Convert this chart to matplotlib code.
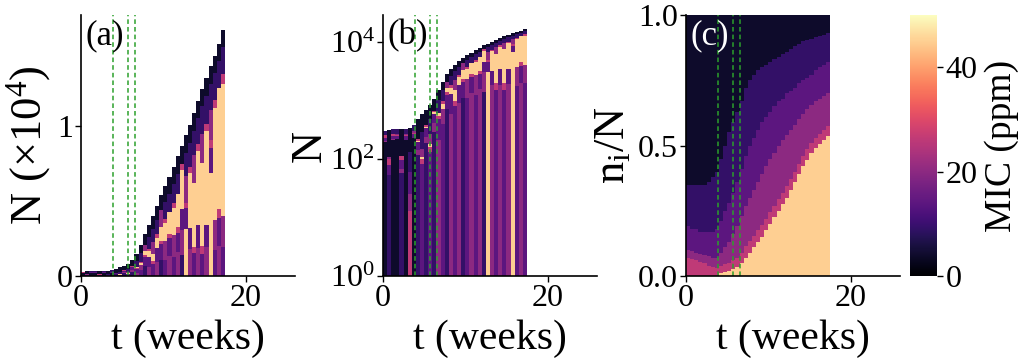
import matplotlib.pyplot as plt
import matplotlib.colors as mcolors
import matplotlib.cm as cm
import numpy as np

plt.rcParams['font.family'] = 'serif'
plt.rcParams['font.serif'] = ['Liberation Serif', 'DejaVu Serif']
plt.rcParams['mathtext.fontset'] = 'custom'
plt.rcParams['mathtext.rm'] = 'Liberation Serif'
plt.rcParams['mathtext.it'] = 'Liberation Serif:italic'

# time bins (weeks), bar width 0.5
t_left = np.arange(0, 17.5, 0.5)
bin_w = 0.5

# MIC of each resistance class (ppm)
mic_class = [45, 26, 20, 14, 9, 4]

# total population N at each bin
n_total = [300, 310, 320, 330, 320, 330, 340, 380, 480, 580,
           680, 820, 1050, 1500, 2100, 2800, 3400, 4000, 4700, 5400,
           6000, 6600, 7300, 8000, 8700, 9400, 10100, 10900, 11700, 12500,
           13200, 14000, 14700, 15500, 16400]

# cumulative fraction (from bottom) of classes sorted by MIC
cum_45 = [0, 0, 0, 0, 0, 0, 0, 0, 0.012, 0.015,
          0.02, 0.025, 0.035, 0.05, 0.07, 0.09, 0.11, 0.13, 0.15, 0.175,
          0.20, 0.225, 0.25, 0.275, 0.30, 0.33, 0.36, 0.39, 0.42, 0.445,
          0.47, 0.49, 0.505, 0.52, 0.535]
cum_26 = [0.07, 0.065, 0.06, 0.055, 0.05, 0.04, 0.035, 0.03, 0.04, 0.045,
          0.05, 0.06, 0.07, 0.09, 0.115, 0.135, 0.155, 0.175, 0.195, 0.22,
          0.245, 0.27, 0.295, 0.32, 0.345, 0.37, 0.40, 0.43, 0.46, 0.485,
          0.51, 0.53, 0.545, 0.56, 0.575]
cum_20 = [0.10, 0.095, 0.09, 0.085, 0.08, 0.075, 0.07, 0.07, 0.09, 0.11,
          0.13, 0.16, 0.19, 0.23, 0.27, 0.30, 0.33, 0.36, 0.39, 0.42,
          0.45, 0.47, 0.50, 0.52, 0.54, 0.56, 0.58, 0.60, 0.62, 0.64,
          0.655, 0.67, 0.68, 0.69, 0.70]
cum_14 = [0.19, 0.18, 0.18, 0.17, 0.17, 0.17, 0.17, 0.18, 0.21, 0.25,
          0.28, 0.32, 0.36, 0.41, 0.46, 0.50, 0.53, 0.56, 0.59, 0.61,
          0.63, 0.65, 0.67, 0.68, 0.70, 0.71, 0.72, 0.74, 0.75, 0.76,
          0.77, 0.79, 0.80, 0.81, 0.82]
cum_9 = [0.35, 0.35, 0.35, 0.35, 0.35, 0.36, 0.38, 0.40, 0.45, 0.50,
         0.55, 0.59, 0.63, 0.67, 0.72, 0.75, 0.77, 0.79, 0.80, 0.81,
         0.82, 0.83, 0.84, 0.85, 0.86, 0.87, 0.88, 0.89, 0.90, 0.905,
         0.91, 0.915, 0.92, 0.925, 0.93]

# class sitting at the base of each column in panels (a)/(b)
base_class = [5, 4, 5, 5, 4, 5, 1, 5, 4, 3,
              4, 3, 4, 2, 3, 4, 2, 3, 2, 4,
              3, 2, 3, 2, 4, 0, 2, 3, 2, 3,
              2, 0, 3, 2, 3]

drug_times = [3.9, 5.7, 6.6]

cum = np.vstack([np.zeros(len(n_total)), cum_45, cum_26, cum_20, cum_14, cum_9,
                 np.ones(len(n_total))])
frac = np.diff(cum, axis=0)  # rows follow mic_class
n_total = np.array(n_total)

norm = mcolors.Normalize(vmin=0, vmax=50)
cmap = plt.get_cmap('magma')
class_col = [cmap(norm(m)) for m in mic_class]

fig = plt.figure(figsize=(10.21, 3.58), dpi=100)
ax_a = fig.add_axes([0.0793, 0.229, 0.2096, 0.729])
ax_b = fig.add_axes([0.3751, 0.229, 0.2096, 0.729])
ax_c = fig.add_axes([0.6719, 0.229, 0.2096, 0.729])
cax = fig.add_axes([0.8913, 0.229, 0.0264, 0.729])

orders = []
for i, b in enumerate(base_class):
    rest = [2, 3, 0, 1, 4, 5] if i % 2 == 0 else [3, 1, 0, 2, 4, 5]
    orders.append([b] + [c for c in rest if c != b])
orders = np.array(orders)

# (a) linear, (b) log: stacked by lineage
for ax, scale, base in [(ax_a, 1e4, 0.0), (ax_b, 1.0, 1.0)]:
    bottom = np.full(len(n_total), base)
    for k in range(len(mic_class)):
        cls = orders[:, k]
        h = n_total * frac[cls, np.arange(len(n_total))] / scale
        ax.bar(t_left, h, width=bin_w, bottom=bottom, align='edge',
               color=[class_col[c] for c in cls], linewidth=0)
        bottom = bottom + h

# (c) fractions sorted by MIC
bottom = np.zeros(len(n_total))
for j in range(len(mic_class)):
    ax_c.bar(t_left, frac[j], width=bin_w, bottom=bottom, align='edge',
             color=class_col[j], linewidth=0)
    bottom = bottom + frac[j]

ax_a.set_ylim(0, 1.74)
ax_a.set_yticks([0, 1])
ax_b.set_yscale('log')
ax_b.set_ylim(1, 10**4.46)
ax_b.set_yticks([1, 1e2, 1e4])
ax_b.set_yticklabels([r'$10^0$', r'$10^2$', r'$10^4$'])
ax_b.minorticks_off()
ax_c.set_ylim(0, 1)
ax_c.set_yticks([0, 0.5, 1.0])
ax_c.set_yticklabels(['0.0', '0.5', '1.0'])

for ax, lab in [(ax_a, '(a)'), (ax_b, '(b)'), (ax_c, '(c)')]:
    ax.set_xlim(0, 26)
    ax.set_xticks([0, 20])
    for tt in drug_times:
        ax.axvline(tt, color='#2ca02c', ls=(0, (3, 2)), lw=1.1)
    ax.spines['top'].set_visible(False)
    ax.spines['right'].set_visible(False)
    ax.spines['left'].set_linewidth(1.2)
    ax.spines['bottom'].set_linewidth(1.2)
    ax.tick_params(labelsize=23, length=4, width=1, pad=2)
    ax.set_xlabel('t (weeks)', fontsize=30)
    ax.xaxis.set_label_coords(0.5, -0.165)
    ax.text(0.02, 0.985, lab, transform=ax.transAxes, va='top', ha='left',
            fontsize=25, color='white' if ax is ax_c else 'black')

ax_a.set_ylabel(r'N (×10$^4$)', fontsize=32)
ax_a.yaxis.set_label_coords(-0.13, 0.5)
ax_b.set_ylabel('N', fontsize=32)
ax_b.yaxis.set_label_coords(-0.25, 0.5)
ax_c.set_ylabel(r'n$_{\mathrm{i}}$/N', fontsize=32)
ax_c.yaxis.set_label_coords(-0.25, 0.5)

sm = cm.ScalarMappable(norm=norm, cmap=cmap)
cbar = fig.colorbar(sm, cax=cax, ticks=[0, 20, 40])
cbar.outline.set_visible(False)
cbar.ax.tick_params(labelsize=23, length=4, width=1, pad=2)
cbar.set_label('MIC (ppm)', fontsize=27)
cbar.ax.yaxis.set_label_coords(2.75, 0.5)

fig.savefig('out.png', dpi=100)
